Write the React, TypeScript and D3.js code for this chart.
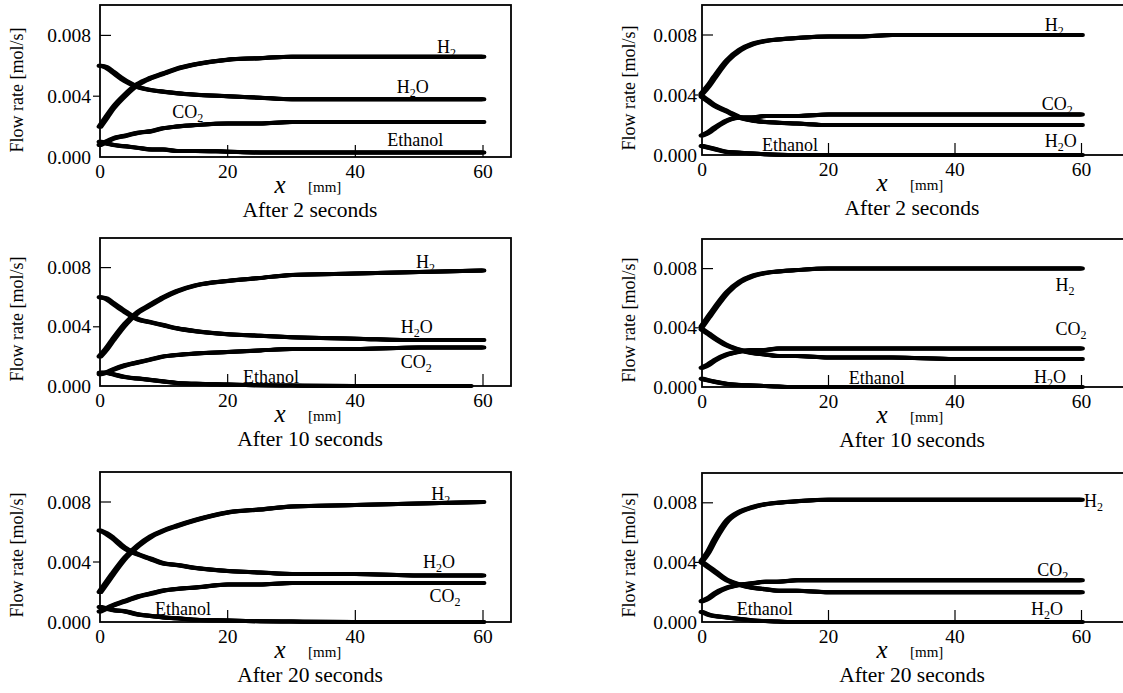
import React from 'react'
import * as d3 from 'd3'

// distance along the channel [mm]
const xPos = [0, 1, 2, 4, 6, 8, 10, 12, 15, 20, 25, 30, 40, 50, 60]
const xPosEth10 = [0, 1, 2, 4, 6, 8, 10, 12, 15, 20, 25, 30, 40, 50, 58]

const yTicks = [0, 0.004, 0.008]
const xTicks = [0, 20, 40, 60]
const timeLabels = ['After 2 seconds', 'After 10 seconds', 'After 20 seconds']

// left column
const leftH2_2 = [0.0020, 0.0026, 0.0032, 0.0041, 0.0048, 0.0052, 0.0055, 0.0058, 0.0061, 0.0064, 0.0065, 0.0066, 0.0066, 0.0066, 0.0066]
const leftH2O_2 = [0.0060, 0.0059, 0.0056, 0.0050, 0.0046, 0.0044, 0.0043, 0.0042, 0.0041, 0.0040, 0.0039, 0.0038, 0.0038, 0.0038, 0.0038]
const leftCO2_2 = [0.0008, 0.0010, 0.0012, 0.0014, 0.0016, 0.0017, 0.0019, 0.0020, 0.0021, 0.0022, 0.0022, 0.0023, 0.0023, 0.0023, 0.0023]
const leftEth_2 = [0.0010, 0.0009, 0.0008, 0.0007, 0.0006, 0.0005, 0.0005, 0.0004, 0.0004, 0.00035, 0.0003, 0.0003, 0.0003, 0.0003, 0.0003]

const leftH2_10 = [0.0020, 0.0025, 0.0031, 0.0042, 0.0050, 0.0055, 0.0060, 0.0064, 0.0068, 0.0071, 0.0073, 0.0075, 0.0076, 0.0077, 0.0078]
const leftH2O_10 = [0.0060, 0.0059, 0.0056, 0.0050, 0.0045, 0.0043, 0.0041, 0.0039, 0.0037, 0.0035, 0.0034, 0.0033, 0.0032, 0.0031, 0.0031]
const leftCO2_10 = [0.0008, 0.0009, 0.0011, 0.0014, 0.0016, 0.0018, 0.0020, 0.0021, 0.0022, 0.0023, 0.0024, 0.0025, 0.0025, 0.0026, 0.0026]
const leftEth_10 = [0.0009, 0.0009, 0.0008, 0.0006, 0.0005, 0.0004, 0.0003, 0.0002, 0.00015, 0.0001, 0.00005, 0.00003, 0, 0, 0]

const leftH2_20 = [0.0020, 0.0026, 0.0032, 0.0043, 0.0051, 0.0057, 0.0061, 0.0064, 0.0068, 0.0073, 0.0075, 0.0077, 0.0078, 0.0079, 0.0080]
const leftH2O_20 = [0.0061, 0.0059, 0.0056, 0.0049, 0.0045, 0.0042, 0.0039, 0.0038, 0.0036, 0.0034, 0.0033, 0.0032, 0.0032, 0.0031, 0.0031]
const leftCO2_20 = [0.0007, 0.0009, 0.0011, 0.0014, 0.0017, 0.0019, 0.0021, 0.0022, 0.0023, 0.0025, 0.0025, 0.0026, 0.0026, 0.0026, 0.0026]
const leftEth_20 = [0.0010, 0.0009, 0.0008, 0.0007, 0.0005, 0.0004, 0.0003, 0.00025, 0.00015, 0.0001, 0.00005, 0.00003, 0, 0, 0]

// right column
const rightH2_2 = [0.0041, 0.0046, 0.0052, 0.0063, 0.0070, 0.0074, 0.0076, 0.0077, 0.0078, 0.0079, 0.0079, 0.0080, 0.0080, 0.0080, 0.0080]
const rightH2O_2 = [0.0039, 0.0036, 0.0033, 0.0029, 0.0025, 0.0023, 0.0022, 0.00215, 0.0021, 0.0020, 0.0020, 0.0020, 0.0020, 0.0020, 0.0020]
const rightCO2_2 = [0.0013, 0.0015, 0.0018, 0.0023, 0.0025, 0.0025, 0.0026, 0.0026, 0.0026, 0.0027, 0.0027, 0.0027, 0.0027, 0.0027, 0.0027]
const rightEth_2 = [0.0006, 0.0005, 0.0004, 0.0002, 0.00015, 0.0001, 0.00005, 0.00002, 0, 0, 0, 0, 0, 0, 0]

const rightH2_10 = [0.0041, 0.0047, 0.0053, 0.0064, 0.0071, 0.0075, 0.0077, 0.0078, 0.0079, 0.0080, 0.0080, 0.0080, 0.0080, 0.0080, 0.0080]
const rightH2O_10 = [0.0039, 0.0036, 0.0033, 0.0028, 0.0025, 0.0023, 0.0022, 0.0021, 0.0021, 0.0020, 0.0020, 0.0020, 0.0019, 0.0019, 0.0019]
const rightCO2_10 = [0.0013, 0.0015, 0.0018, 0.0022, 0.0024, 0.0025, 0.0025, 0.0026, 0.0026, 0.0026, 0.0026, 0.0026, 0.0026, 0.0026, 0.0026]
const rightEth_10 = [0.00056, 0.00045, 0.00035, 0.0002, 0.00013, 0.0001, 0.00006, 0.00003, 0, 0, 0, 0, 0, 0, 0]

const rightH2_20 = [0.0041, 0.0047, 0.0055, 0.0068, 0.0074, 0.0077, 0.0079, 0.0080, 0.0081, 0.0082, 0.0082, 0.0082, 0.0082, 0.0082, 0.0082]
const rightH2O_20 = [0.0040, 0.0037, 0.0034, 0.0028, 0.0025, 0.0023, 0.0022, 0.0021, 0.0021, 0.0020, 0.0020, 0.0020, 0.0020, 0.0020, 0.0020]
const rightCO2_20 = [0.0014, 0.0016, 0.0019, 0.0023, 0.0025, 0.0026, 0.0027, 0.0027, 0.0028, 0.0028, 0.0028, 0.0028, 0.0028, 0.0028, 0.0028]
const rightEth_20 = [0.00067, 0.0005, 0.0004, 0.0003, 0.0002, 0.0001, 0.00006, 0.00003, 0, 0, 0, 0, 0, 0, 0]

// where each curve name sits, in data units [mm, mol/s]
type Tag = { name: 'H2' | 'H2O' | 'CO2' | 'Ethanol'; x: number; y: number }
const leftTags2: Tag[] = [{ name: 'H2', x: 52.8, y: 0.00684 }, { name: 'H2O', x: 46.5, y: 0.00422 }, { name: 'CO2', x: 11.3, y: 0.00256 }, { name: 'Ethanol', x: 45, y: 0.00074 }]
const leftTags10: Tag[] = [{ name: 'H2', x: 49.5, y: 0.0080 }, { name: 'H2O', x: 47.1, y: 0.00356 }, { name: 'CO2', x: 47.1, y: 0.0012 }, { name: 'Ethanol', x: 22.4, y: 0.00023 }]
const leftTags20: Tag[] = [{ name: 'H2', x: 51.9, y: 0.00815 }, { name: 'H2O', x: 50.6, y: 0.00363 }, { name: 'CO2', x: 51.6, y: 0.00132 }, { name: 'Ethanol', x: 8.6, y: 0.0005 }]
const rightTags2: Tag[] = [{ name: 'H2', x: 54.2, y: 0.00827 }, { name: 'CO2', x: 53.7, y: 0.00302 }, { name: 'H2O', x: 54.2, y: 0.00056 }, { name: 'Ethanol', x: 9.5, y: 0.00027 }]
const rightTags10: Tag[] = [{ name: 'H2', x: 55.9, y: 0.00647 }, { name: 'CO2', x: 55.9, y: 0.0035 }, { name: 'H2O', x: 52.5, y: 0.00025 }, { name: 'Ethanol', x: 23.2, y: 0.00018 }]
const rightTags20: Tag[] = [{ name: 'H2', x: 60.4, y: 0.0077 }, { name: 'CO2', x: 53, y: 0.0031 }, { name: 'H2O', x: 52, y: 0.0005 }, { name: 'Ethanol', x: 5.5, y: 0.00045 }]

type Series = { xs: number[]; ys: number[] }
type PanelSpec = {
  left: number; top: number; bottom: number; frameRight: number; x60: number
  tickLabelGap: number; yLabelGap: number
  title: string; series: Series[]; tags: Tag[]
}

const font = "'Liberation Serif', 'Times New Roman', serif"

const leftCol = { left: 100, frameRight: 511, x60: 483, tickLabelGap: 9, yLabelGap: 77 }
const rightCol = { left: 702, frameRight: 1130, x60: 1081.5, tickLabelGap: 5, yLabelGap: 67 }

const panels: PanelSpec[] = [
  { ...leftCol, top: 5, bottom: 157, title: timeLabels[0], tags: leftTags2,
    series: [leftH2_2, leftH2O_2, leftCO2_2, leftEth_2].map(ys => ({ xs: xPos, ys })) },
  { ...rightCol, top: 5, bottom: 155, title: timeLabels[0], tags: rightTags2,
    series: [rightH2_2, rightH2O_2, rightCO2_2, rightEth_2].map(ys => ({ xs: xPos, ys })) },
  { ...leftCol, top: 238, bottom: 386, title: timeLabels[1], tags: leftTags10,
    series: [
      { xs: xPos, ys: leftH2_10 }, { xs: xPos, ys: leftH2O_10 },
      { xs: xPos, ys: leftCO2_10 }, { xs: xPosEth10, ys: leftEth_10 }
    ] },
  { ...rightCol, top: 239, bottom: 387, title: timeLabels[1], tags: rightTags10,
    series: [rightH2_10, rightH2O_10, rightCO2_10, rightEth_10].map(ys => ({ xs: xPos, ys })) },
  { ...leftCol, top: 472, bottom: 622, title: timeLabels[2], tags: leftTags20,
    series: [leftH2_20, leftH2O_20, leftCO2_20, leftEth_20].map(ys => ({ xs: xPos, ys })) },
  { ...rightCol, top: 473, bottom: 622, title: timeLabels[2], tags: rightTags20,
    series: [rightH2_20, rightH2O_20, rightCO2_20, rightEth_20].map(ys => ({ xs: xPos, ys })) }
]

const TagText = ({ tag, x, y }: { tag: Tag; x: number; y: number }) => {
  const sub = { fontSize: 12 }
  if (tag.name === 'Ethanol') return <text x={x} y={y}>Ethanol</text>
  if (tag.name === 'H2') return <text x={x} y={y}>H<tspan dy={4} style={sub}>2</tspan></text>
  if (tag.name === 'CO2') return <text x={x} y={y}>CO<tspan dy={4} style={sub}>2</tspan></text>
  return <text x={x} y={y}>H<tspan dy={4} style={sub}>2</tspan><tspan dy={-4}>O</tspan></text>
}

const Panel = ({ p }: { p: PanelSpec }) => {
  const x = d3.scaleLinear().domain([0, 60]).range([p.left, p.x60])
  const y = d3.scaleLinear().domain([0, 0.01]).range([p.bottom, p.top])
  const line = d3.line<[number, number]>()
    .x(d => x(d[0]))
    .y(d => y(d[1]))
    .curve(d3.curveMonotoneX)
  const titleX = p.left + 210

  return (
    <g>
      <g fill="none" stroke="#000" strokeWidth={4} strokeLinejoin="round" strokeLinecap="round">
        {p.series.map((s, i) => {
          const d = line(s.xs.map((v, j) => [v, s.ys[j]] as [number, number])) || ''
          // a wide flat pen: steep parts come out thicker than the flat tails
          return [-1.4, 0, 1.4].map(dx => (
            <path key={`${i}-${dx}`} d={d} transform={`translate(${dx},0)`} />
          ))
        })}
      </g>
      <rect x={p.left} y={p.top} width={p.frameRight - p.left} height={p.bottom - p.top}
        fill="none" stroke="#000" strokeWidth={1.8} />
      {xTicks.filter(t => t > 0).map(t => (
        <line key={t} x1={x(t)} x2={x(t)} y1={p.bottom} y2={p.bottom - 12} stroke="#000" strokeWidth={1.2} />
      ))}
      <line x1={p.left} x2={p.left + 11} y1={y(0.008)} y2={y(0.008)} stroke="#000" strokeWidth={1.2} />
      <line x1={p.left - 7} x2={p.left} y1={y(0.004)} y2={y(0.004)} stroke="#000" strokeWidth={1.2} />
      <g style={{ fontFamily: font, fontSize: 19.5 }}>
        {yTicks.map(t => (
          <text key={t} x={p.left - p.tickLabelGap} y={y(t) + 6.5} textAnchor="end">{d3.format('.3f')(t)}</text>
        ))}
        {xTicks.map(t => (
          <text key={t} x={x(t)} y={p.bottom + 21} textAnchor="middle">{t}</text>
        ))}
      </g>
      <text transform={`translate(${p.left - p.yLabelGap},${p.bottom - 67}) rotate(-90)`}
        textAnchor="middle" style={{ fontFamily: font, fontSize: 18 }}>Flow rate [mol/s]</text>
      <text x={titleX - 30} y={p.bottom + 36} textAnchor="middle"
        style={{ fontFamily: font, fontSize: 25, fontStyle: 'italic' }}>x</text>
      <text x={titleX - 2} y={p.bottom + 35} style={{ fontFamily: font, fontSize: 15 }}>[mm]</text>
      <text x={titleX} y={p.bottom + 60} textAnchor="middle" style={{ fontFamily: font, fontSize: 21.5 }}>{p.title}</text>
      <g style={{ fontFamily: font, fontSize: 18 }}>
        {p.tags.map(t => <TagText key={t.name} tag={t} x={x(t.x)} y={y(t.y)} />)}
      </g>
    </g>
  )
}

export default function App() {
  return (
    <div style={{ position: 'absolute', left: 0, top: 0, width: 1123, height: 693, background: '#fff' }}>
      <svg width={1123} height={693} style={{ display: 'block' }}>
        <rect width={1123} height={693} fill="#fff" />
        {panels.map((p, i) => <Panel key={i} p={p} />)}
      </svg>
    </div>
  )
}
